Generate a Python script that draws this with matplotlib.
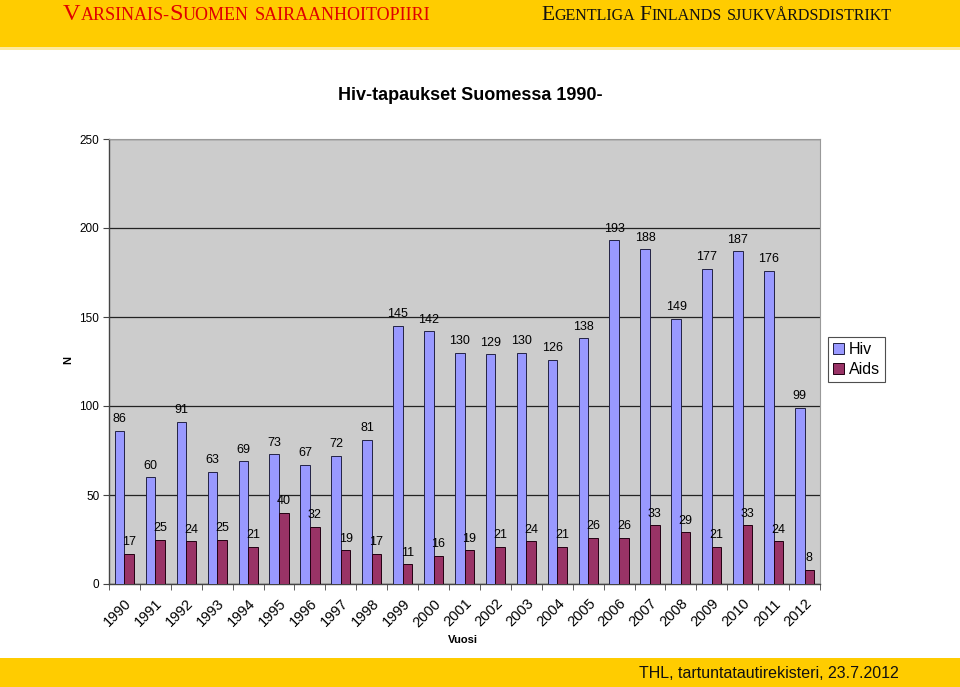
import matplotlib.pyplot as plt
import matplotlib.patches as patches
import matplotlib.transforms as mtransforms
import numpy as np

years = [str(y) for y in range(1990, 2013)]
hiv = [86, 60, 91, 63, 69, 73, 67, 72, 81, 145, 142, 130, 129, 130, 126, 138,
       193, 188, 149, 177, 187, 176, 99]
aids = [17, 25, 24, 25, 21, 40, 32, 19, 17, 11, 16, 19, 21, 24, 21, 26,
        26, 33, 29, 21, 33, 24, 8]

plt.rcParams['font.family'] = ['Liberation Sans', 'DejaVu Sans']

W, H = 960, 687
fig = plt.figure(figsize=(W / 100, H / 100), dpi=100)
fig.patch.set_facecolor('white')

# yellow bands top and bottom
fig.add_artist(patches.Rectangle((0, 1 - 47 / H), 1, 47 / H, transform=fig.transFigure,
                                 facecolor='#ffcc00', edgecolor='none'))
fig.add_artist(patches.Rectangle((0, 1 - 50 / H), 1, 3 / H, transform=fig.transFigure,
                                 facecolor='#fde9a0', edgecolor='none'))
fig.add_artist(patches.Rectangle((0, 0), 1, 29 / H, transform=fig.transFigure,
                                 facecolor='#ffcc00', edgecolor='none'))

renderer = fig.canvas.get_renderer()


def small_caps(x_px, y_px, parts, color, big=15, small=11):
    # parts: list of (text, is_big, gap_after_px)
    x = x_px
    for txt, is_big, gap in parts:
        t = fig.text(x / W, 1 - y_px / H, txt, fontsize=big if is_big else small,
                     family='Liberation Serif', color=color, va='baseline', ha='left')
        x += t.get_window_extent(renderer).width + gap


small_caps(63, 20, [('V', True, 0), ('ARSINAIS-', False, 0), ('S', True, 0),
                    ('UOMEN', False, 6), ('SAIRAANHOITOPIIRI', False, 0)], '#e00000',
           big=17.5, small=13)
small_caps(541, 20, [('E', True, 0), ('GENTLIGA', False, 5), ('F', True, 0),
                     ('INLANDS', False, 5), ('SJUKVÅRDSDISTRIKT', False, 0)], '#111111',
           big=15.5, small=11.5)

fig.text(769 / W, 1 - 673 / H, 'THL, tartuntatautirekisteri, 23.7.2012', fontsize=11.5,
         ha='center', va='center', color='#111111')

fig.text(470 / W, 1 - 96 / H, 'Hiv-tapaukset Suomessa 1990-', fontsize=13,
         fontweight='bold', ha='center', va='center')

ax = fig.add_axes([109 / W, 1 - 584 / H, (820 - 109) / W, (584 - 139) / H])
ax.set_facecolor('#cccccc')

x = np.arange(len(years))
bw = 0.31
b1 = ax.bar(x - bw / 2, hiv, bw, color='#9999ff', edgecolor='#222244', linewidth=0.7,
            label='Hiv', zorder=3)
b2 = ax.bar(x + bw / 2, aids, bw, color='#993366', edgecolor='#220011', linewidth=0.7,
            label='Aids', zorder=3)

for i in range(len(years)):
    ax.annotate(str(hiv[i]), (x[i] - bw / 2, hiv[i]), xytext=(0, 4), textcoords='offset points',
                ha='center', va='bottom', fontsize=9)
    ax.annotate(str(aids[i]), (x[i] + bw / 2, aids[i]), xytext=(0, 4), textcoords='offset points',
                ha='center', va='bottom', fontsize=9)

ax.set_xlim(-0.5, len(years) - 0.5)
ax.set_ylim(0, 250)
ax.set_yticks(range(0, 251, 50))
ax.yaxis.grid(True, color='#222222', linewidth=0.9, zorder=1)
ax.set_axisbelow(True)

ax.set_xticks(x)
ax.set_xticklabels(years, rotation=45, ha='right', va='top', rotation_mode='anchor', fontsize=10.5)
shift = mtransforms.ScaledTranslation(-5 / 100, 0, fig.dpi_scale_trans)
for lab in ax.get_xticklabels():
    lab.set_transform(lab.get_transform() + shift)
ax.set_xticks(np.arange(-0.5, len(years), 1), minor=True)
ax.tick_params(axis='x', which='major', length=0, pad=9)
ax.tick_params(axis='x', which='minor', length=4, color='#444444', direction='out')
ax.tick_params(axis='y', length=4, color='#444444', labelsize=8.5, pad=3)

for s in ['left', 'bottom']:
    ax.spines[s].set_color('#444444')
    ax.spines[s].set_linewidth(1.0)
for s in ['top', 'right']:
    ax.spines[s].set_color('#999999')
    ax.spines[s].set_linewidth(0.8)

fig.text(68 / W, 1 - 360 / H, 'N', fontsize=8, fontweight='bold', rotation=90,
         ha='center', va='center')
fig.text(463 / W, 1 - 640 / H, 'Vuosi', fontsize=8, fontweight='bold', ha='center', va='center')

leg = fig.legend(handles=[b1, b2], labels=['Hiv', 'Aids'], loc='upper left',
                 bbox_to_anchor=(828 / W, 1 - 337 / H), fontsize=11.5, frameon=True,
                 fancybox=False, edgecolor='#222222', handlelength=0.7, handleheight=0.7,
                 handletextpad=0.3, borderpad=0.3, labelspacing=0.35, borderaxespad=0)
leg.get_frame().set_linewidth(0.8)

fig.savefig('out.png', dpi=100)
